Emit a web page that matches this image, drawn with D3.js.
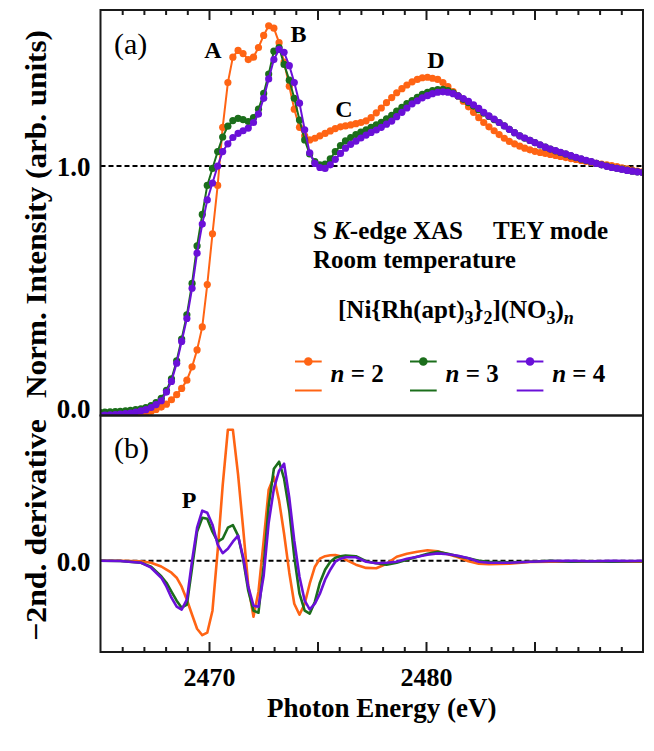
<!DOCTYPE html>
<html><head><meta charset="utf-8">
<script src="https://cdn.jsdelivr.net/npm/d3@7/dist/d3.min.js"></script>
<style>
body{margin:0;background:#fff}
svg{display:block}
text{font-family:"Liberation Serif","Times New Roman",serif}
</style>
</head><body>
<svg id="chart" width="654" height="751"></svg>
<script>
// ---------- DATA ----------
const energy = [2464.97,2465.20,2465.44,2465.68,2465.91,2466.15,2466.38,2466.62,2466.86,2467.09,
2467.33,2467.56,2467.80,2468.04,2468.27,2468.51,2468.74,2468.98,2469.22,2469.45,
2469.69,2469.92,2470.16,2470.40,2470.63,2470.87,2471.10,2471.34,2471.57,2471.81,
2472.05,2472.28,2472.52,2472.75,2472.99,2473.23,2473.46,2473.70,2473.93,2474.17,
2474.41,2474.64,2474.88,2475.11,2475.35,2475.59,2475.82,2476.06,2476.29,2476.53,
2476.77,2477.00,2477.24,2477.47,2477.71,2477.94,2478.18,2478.42,2478.65,2478.89,
2479.12,2479.36,2479.60,2479.83,2480.07,2480.30,2480.54,2480.78,2481.01,2481.25,
2481.48,2481.72,2481.96,2482.19,2482.43,2482.66,2482.90,2483.14,2483.37,2483.61,
2483.84,2484.08,2484.32,2484.55,2484.79,2485.02,2485.26,2485.50,2485.73,2485.97,
2486.20,2486.44,2486.68,2486.91,2487.15,2487.38,2487.62,2487.85,2488.09,2488.33,
2488.56,2488.80,2489.03,2489.27,2489.51,2489.74,2489.98];

const xasN2 = [-0.03,-0.03,-0.03,-0.03,-0.03,-0.03,-0.028,-0.026,-0.024,-0.02,
-0.014,-0.006,0.004,0.016,0.034,0.055,0.081,0.115,0.17,0.24,
0.335,0.51,0.72,0.92,1.16,1.345,1.45,1.478,1.465,1.44,
1.45,1.49,1.54,1.58,1.57,1.51,1.43,1.33,1.235,1.16,
1.125,1.108,1.115,1.125,1.135,1.145,1.155,1.162,1.166,1.17,
1.175,1.18,1.187,1.2,1.22,1.24,1.262,1.283,1.303,1.32,
1.335,1.348,1.358,1.365,1.367,1.363,1.358,1.345,1.328,1.308,
1.29,1.268,1.245,1.222,1.2,1.18,1.162,1.146,1.13,1.115,
1.102,1.092,1.082,1.074,1.067,1.061,1.056,1.052,1.048,1.044,
1.04,1.035,1.031,1.027,1.023,1.019,1.015,1.011,1.008,1.005,
1.002,0.998,0.993,0.988,0.983,0.979,0.976];

const xasN3 = [-0.018,-0.017,-0.016,-0.015,-0.014,-0.012,-0.01,-0.007,-0.003,0.002,
0.01,0.022,0.04,0.073,0.12,0.195,0.285,0.385,0.515,0.67,
0.8,0.92,0.99,1.06,1.12,1.165,1.188,1.197,1.192,1.184,
1.2,1.235,1.3,1.38,1.475,1.49,1.42,1.355,1.28,1.19,
1.108,1.05,1.018,1.005,1.008,1.03,1.06,1.085,1.104,1.118,
1.13,1.14,1.15,1.16,1.17,1.181,1.195,1.21,1.227,1.243,
1.258,1.271,1.284,1.296,1.305,1.312,1.316,1.317,1.312,1.303,
1.29,1.276,1.262,1.248,1.233,1.219,1.205,1.192,1.18,1.166,
1.152,1.138,1.125,1.115,1.106,1.097,1.087,1.078,1.07,1.063,
1.056,1.049,1.042,1.035,1.029,1.023,1.017,1.011,1.005,1.0,
0.995,0.991,0.987,0.983,0.979,0.976,0.973];

const xasN4 = [-0.03,-0.029,-0.028,-0.027,-0.025,-0.023,-0.021,-0.017,-0.012,-0.007,
0.002,0.014,0.03,0.066,0.11,0.185,0.275,0.37,0.495,0.64,
0.76,0.86,0.93,1.0,1.06,1.092,1.118,1.135,1.146,1.157,
1.18,1.215,1.28,1.36,1.44,1.482,1.47,1.415,1.345,1.26,
1.15,1.055,1.011,0.994,0.99,1.005,1.028,1.052,1.074,1.09,
1.103,1.116,1.128,1.139,1.149,1.16,1.173,1.186,1.204,1.222,
1.24,1.257,1.27,1.282,1.291,1.299,1.305,1.307,1.305,1.299,
1.29,1.279,1.267,1.253,1.238,1.222,1.207,1.194,1.18,1.166,
1.152,1.138,1.125,1.116,1.106,1.097,1.088,1.078,1.07,1.064,
1.057,1.05,1.043,1.036,1.03,1.024,1.018,1.011,1.005,0.999,
0.994,0.99,0.986,0.982,0.979,0.976,0.973];

const dEnergy = [2464.97,2465.91,2466.86,2467.33,
2467.80,2468.04,2468.27,2468.51,2468.74,2468.98,2469.22,2469.45,2469.69,2469.92,
2470.16,2470.40,2470.63,2470.87,2471.10,2471.34,2471.57,2471.81,2472.05,2472.28,
2472.52,2472.75,2472.99,2473.23,2473.46,2473.70,2473.93,2474.17,2474.41,2474.64,
2474.88,2475.11,2475.35,2475.59,2475.82,2476.06,2476.29,
2476.77,2477.24,2477.71,2478.18,2478.65,2479.12,2479.60,2480.07,2480.54,2481.01,
2481.48,2481.96,2482.43,2482.90,
2483.84,2484.79,2485.73,2486.68,2487.62,2488.56,2489.51,2489.98];

const derN2 = [0.0,0.0,-0.005,-0.02,
-0.058,-0.09,-0.12,-0.17,-0.26,-0.39,-0.54,-0.68,-0.745,-0.72,
-0.5,0.1,0.75,1.31,1.31,0.86,0.33,-0.25,-0.56,-0.31,
0.2,0.71,0.84,0.6,0.27,-0.12,-0.43,-0.54,-0.43,-0.23,
-0.06,0.02,0.045,0.055,0.057,0.045,0.01,
-0.04,-0.072,-0.075,-0.03,0.04,0.07,0.09,0.105,0.095,0.065,
0.035,-0.005,-0.03,-0.035,
-0.03,-0.012,-0.01,-0.01,-0.008,-0.01,-0.01,-0.01];

const derN3 = [0.0,-0.003,-0.02,-0.06,
-0.155,-0.22,-0.31,-0.4,-0.47,-0.44,-0.07,0.29,0.43,0.42,
0.29,0.19,0.22,0.33,0.355,0.25,0.02,-0.3,-0.5,-0.52,
-0.05,0.55,0.92,0.99,0.82,0.5,0.04,-0.33,-0.5,-0.53,
-0.41,-0.22,-0.09,-0.01,0.03,0.045,0.052,
0.045,-0.005,-0.026,-0.04,-0.02,0.01,0.04,0.07,0.088,0.07,
0.045,0.025,0.0,-0.012,
-0.016,-0.01,0.0,-0.01,-0.005,-0.01,-0.005,-0.005];

const derN4 = [0.0,-0.003,-0.02,-0.07,
-0.17,-0.26,-0.37,-0.46,-0.49,-0.39,0.0,0.33,0.5,0.48,
0.36,0.16,0.075,0.12,0.19,0.25,0.04,-0.26,-0.45,-0.46,
-0.15,0.38,0.72,0.9,0.97,0.63,0.2,-0.16,-0.4,-0.486,
-0.43,-0.33,-0.19,-0.09,-0.01,0.02,0.035,
0.035,-0.01,-0.025,-0.02,-0.01,0.02,0.04,0.06,0.073,0.065,
0.05,0.025,-0.01,-0.02,
-0.02,-0.01,-0.003,0.0,-0.005,0.0,-0.003,0.0];

const seriesN = ["2", "3", "4"];
const seriesColors = ["#ff6414", "#1b6e1b", "#6a10d8"];
const xTickLabels = [2470, 2480];
const yTopTickLabels = [0.0, 1.0];
const yBotTickLabels = [0.0];
const peakLabels = ["A", "B", "C", "D"];
const peakE = [2470.18, 2474.12, 2476.22, 2480.46];
const peakI = [1.446, 1.514, 1.204, 1.405];
const pLabelE = 2469.08, pLabelV = 0.527;

// ---------- LAYOUT ----------
const L = 100.5, R = 643, T = 10, M = 415.5, B = 652;
const svg = d3.select("#chart");
const x = d3.scaleLinear().domain([2465, 2490]).range([L, R]);
const yTop = d3.scaleLinear().domain([-0.031, 1.645]).range([M, T]);
const yBot = d3.scaleLinear().domain([-0.913, 1.452]).range([B, M]);
const frameColor = "#1a1a1a";

const defs = svg.append("defs");
defs.append("clipPath").attr("id","clipTop").append("rect").attr("x",L).attr("y",T).attr("width",R-L).attr("height",M-T);
defs.append("clipPath").attr("id","clipBot").append("rect").attr("x",L).attr("y",M).attr("width",R-L).attr("height",B-M);

// dashed reference lines
svg.append("line").attr("x1",L).attr("x2",R).attr("y1",yTop(1)).attr("y2",yTop(1))
  .attr("stroke","#000").attr("stroke-width",2).attr("stroke-dasharray","5,3");
svg.append("line").attr("x1",L).attr("x2",R).attr("y1",yBot(0)).attr("y2",yBot(0))
  .attr("stroke","#000").attr("stroke-width",2).attr("stroke-dasharray","5,3");

// top panel XAS
const xas = [xasN2, xasN3, xasN4];
const gTop = svg.append("g").attr("clip-path","url(#clipTop)");
xas.forEach((vals, si) => {
  const pts = energy.map((e,i)=>[e, vals[i]]);
  gTop.append("path").datum(pts)
    .attr("fill","none").attr("stroke",seriesColors[si]).attr("stroke-width",2)
    .attr("d", d3.line().x(d=>x(d[0])).y(d=>yTop(d[1])));
  gTop.selectAll(null).data(pts).enter().append("circle")
    .attr("cx",d=>x(d[0])).attr("cy",d=>yTop(d[1])).attr("r",3.6)
    .attr("fill",seriesColors[si]);
});

// bottom panel derivatives
const der = [derN2, derN3, derN4];
const gBot = svg.append("g").attr("clip-path","url(#clipBot)");
der.forEach((vals, si) => {
  const pts = dEnergy.map((e,i)=>[e, vals[i]]);
  gBot.append("path").datum(pts)
    .attr("fill","none").attr("stroke",seriesColors[si]).attr("stroke-width",2.6)
    .attr("stroke-linejoin","round")
    .attr("d", d3.line().x(d=>x(d[0])).y(d=>yBot(d[1])));
});

// frames
svg.append("rect").attr("x",L).attr("y",T).attr("width",R-L).attr("height",M-T)
  .attr("fill","none").attr("stroke",frameColor).attr("stroke-width",2);
svg.append("rect").attr("x",L).attr("y",M).attr("width",R-L).attr("height",B-M)
  .attr("fill","none").attr("stroke",frameColor).attr("stroke-width",2);

// ticks (inward)
const minorTicks = d3.range(2466, 2490, 1).filter(v => v % 5 !== 0);
const majorTicks = [2470, 2475, 2480, 2485];
function tickAxis(axisFn, vals, size, yPos){
  const g = svg.append("g").attr("transform",`translate(0,${yPos})`)
    .call(axisFn(x).tickValues(vals).tickSize(size).tickFormat(""));
  g.select(".domain").remove();
  g.selectAll("line").attr("stroke",frameColor).attr("stroke-width",2);
}
tickAxis(d3.axisBottom, minorTicks, 5, T);
tickAxis(d3.axisBottom, majorTicks, 10, T);
tickAxis(d3.axisTop, minorTicks, 5, B);
tickAxis(d3.axisTop, majorTicks, 10, B);

// x tick labels
const gx = svg.append("g").attr("transform",`translate(0,686)`)
  .call(d3.axisBottom(x).tickValues(xTickLabels).tickSize(0).tickFormat(d3.format("d")));
gx.select(".domain").remove();
gx.selectAll("text").attr("y",0).attr("dy",0).attr("fill","#000")
  .style("font-size","26px").style("font-weight","bold").style("font-family",'"Liberation Serif",serif');

// y tick labels
function yLabels(scale, vals){
  const g = svg.append("g").attr("transform",`translate(${L},0)`)
    .call(d3.axisLeft(scale).tickValues(vals).tickSize(0).tickPadding(10).tickFormat(d3.format(".1f")));
  g.select(".domain").remove();
  g.selectAll("text").attr("fill","#000").attr("dy","0.35em")
    .style("font-size","27px").style("font-weight","bold").style("font-family",'"Liberation Serif",serif');
}
yLabels(yTop, yTopTickLabels);
yLabels(yBot, yBotTickLabels);

// axis titles
svg.append("text").attr("x",(L+R)/2+10).attr("y",717).attr("text-anchor","middle")
  .style("font-size","27px").style("font-weight","bold").text("Photon Energy (eV)");
svg.append("text").attr("transform","translate(46,214) rotate(-90)").attr("text-anchor","middle")
  .attr("textLength",368).attr("lengthAdjust","spacingAndGlyphs")
  .style("font-size","30px").style("font-weight","bold").text("Norm. Intensity (arb. units)");
svg.append("text").attr("transform","translate(46,530) rotate(-90)").attr("text-anchor","middle")
  .attr("textLength",222).attr("lengthAdjust","spacingAndGlyphs")
  .style("font-size","30px").style("font-weight","bold").text("\u22122nd. derivative");

// panel tags
svg.append("text").attr("x",114).attr("y",54).style("font-size","30px").text("(a)");
svg.append("text").attr("x",114).attr("y",458).style("font-size","30px").text("(b)");

// peak labels
peakLabels.forEach((t,i)=>{
  svg.append("text").attr("x",x(peakE[i])).attr("y",yTop(peakI[i])).attr("text-anchor","middle")
    .style("font-size","24px").style("font-weight","bold").text(t);
});
svg.append("text").attr("x",x(pLabelE)).attr("y",yBot(pLabelV)).attr("text-anchor","middle")
  .style("font-size","24px").style("font-weight","bold").text("P");

// info text
const t1 = svg.append("text").attr("x",313).attr("y",239).style("font-size","25px").style("font-weight","bold");
t1.append("tspan").text("S ");
t1.append("tspan").style("font-style","italic").text("K");
t1.append("tspan").text("-edge XAS");
svg.append("text").attr("x",493).attr("y",239).style("font-size","25px").style("font-weight","bold").text("TEY mode");
svg.append("text").attr("x",313).attr("y",268).style("font-size","25px").style("font-weight","bold").text("Room temperature");

const f = svg.append("text").attr("x",338).attr("y",318).style("font-size","25px").style("font-weight","bold");
f.append("tspan").text("[Ni{Rh(apt)");
f.append("tspan").attr("dy",6).style("font-size","18px").text("3");
f.append("tspan").attr("dy",-6).text("}");
f.append("tspan").attr("dy",6).style("font-size","18px").text("2");
f.append("tspan").attr("dy",-6).text("](NO");
f.append("tspan").attr("dy",6).style("font-size","18px").text("3");
f.append("tspan").attr("dy",-6).text(")");
f.append("tspan").attr("dy",6).style("font-size","18px").style("font-style","italic").text("n");

// legend
const legX = [295, 410, 516.7];
seriesN.forEach((n,i)=>{
  const x0 = legX[i];
  svg.append("line").attr("x1",x0).attr("x2",x0+26.7).attr("y1",361.5).attr("y2",361.5)
    .attr("stroke",seriesColors[i]).attr("stroke-width",2);
  svg.append("circle").attr("cx",x0+13.3).attr("cy",361.5).attr("r",4.3).attr("fill",seriesColors[i]);
  svg.append("line").attr("x1",x0).attr("x2",x0+26.7).attr("y1",390.5).attr("y2",390.5)
    .attr("stroke",seriesColors[i]).attr("stroke-width",2);
  const tx = svg.append("text").attr("x",x0+35.5).attr("y",382).style("font-size","25px").style("font-weight","bold");
  tx.append("tspan").style("font-style","italic").text("n");
  tx.append("tspan").text(" = " + n);
});
</script>
</body></html>
